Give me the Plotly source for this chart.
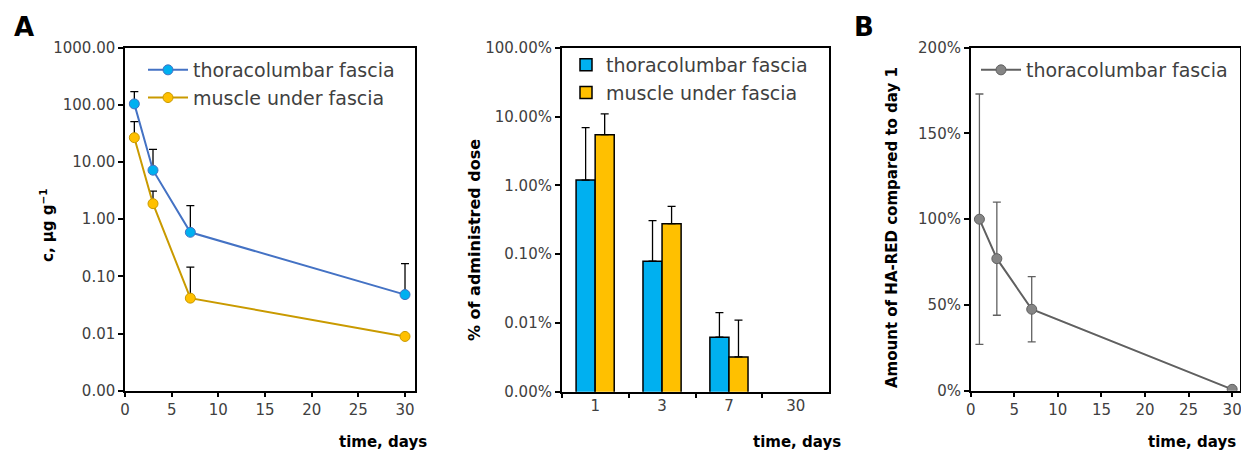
import plotly.graph_objects as go

W, H = 1241, 452
FONT = "DejaVu Sans"

# ---------------- data ----------------
days = [1, 3, 7, 30]
day_labels = ["1", "3", "7", "30"]

# Panel A (left): concentration, µg/g
conc_fascia = [104, 7.2, 0.59, 0.048]
conc_fascia_err = [66, 9.5, 1.14, 0.119]          # upper error only
conc_muscle = [26.7, 1.87, 0.0416, 0.0089]
conc_muscle_err = [24.1, 1.23, 0.103, 0]

# Panel A (middle): % of administered dose
dose_fascia = [1.19, 0.079, 0.0062, None]
dose_fascia_err = [5.7, 0.227, 0.0079, 0]
dose_muscle = [5.44, 0.277, 0.0032, None]
dose_muscle_err = [5.46, 0.218, 0.0078, 0]

# Panel B: amount compared to day 1 (%)
rel_fascia = [100, 77, 47.5, 0.8]
rel_fascia_err = [73, 33, 19, 0]

log_ticks1 = [0.001, 0.01, 0.1, 1, 10, 100, 1000]
log_text1 = ["0.00", "0.01", "0.10", "1.00", "10.00", "100.00", "1000.00"]
log_ticks2 = [0.001, 0.01, 0.1, 1, 10, 100]
log_text2 = ["0.00%", "0.01%", "0.10%", "1.00%", "10.00%", "100.00%"]
lin_ticks3 = [0, 50, 100, 150, 200]
lin_text3 = ["0%", "50%", "100%", "150%", "200%"]
x_ticks = [0, 5, 10, 15, 20, 25, 30]

BLUE_LINE = "#4472C4"
BLUE_FILL = "#00B0F0"
ORANGE_LINE = "#C99A00"
ORANGE_FILL = "#FFC000"
GRAY_LINE = "#606060"
GRAY_FILL = "#858585"
TICK_COLOR = "#404040"


def px(x):
    return x / W


def py(y):
    return 1 - y / H


fig = go.Figure()

# Panel A left
fig.add_trace(go.Scatter(
    x=days, y=conc_fascia, name="thoracolumbar fascia", mode="lines+markers",
    line=dict(color=BLUE_LINE, width=2),
    marker=dict(size=10, color=BLUE_FILL, line=dict(color=BLUE_LINE, width=1)),
    error_y=dict(type="data", symmetric=False, array=conc_fascia_err,
                 arrayminus=[0] * 4, color="black", thickness=1.3, width=4),
    xaxis="x", yaxis="y", legend="legend"))
fig.add_trace(go.Scatter(
    x=days, y=conc_muscle, name="muscle under fascia", mode="lines+markers",
    line=dict(color=ORANGE_LINE, width=2),
    marker=dict(size=10, color=ORANGE_FILL, line=dict(color=ORANGE_LINE, width=1)),
    error_y=dict(type="data", symmetric=False, array=conc_muscle_err,
                 arrayminus=[0] * 4, color="black", thickness=1.3, width=4),
    xaxis="x", yaxis="y", legend="legend"))

# Panel A middle
fig.add_trace(go.Bar(
    x=day_labels, y=dose_fascia, name="thoracolumbar fascia",
    marker=dict(color=BLUE_FILL, line=dict(color="black", width=1.5)),
    error_y=dict(type="data", symmetric=False, array=dose_fascia_err,
                 arrayminus=[0] * 4, color="black", thickness=1.3, width=4),
    xaxis="x2", yaxis="y2", legend="legend2"))
fig.add_trace(go.Bar(
    x=day_labels, y=dose_muscle, name="muscle under fascia",
    marker=dict(color=ORANGE_FILL, line=dict(color="black", width=1.5)),
    error_y=dict(type="data", symmetric=False, array=dose_muscle_err,
                 arrayminus=[0] * 4, color="black", thickness=1.3, width=4),
    xaxis="x2", yaxis="y2", legend="legend2"))

# Panel B
fig.add_trace(go.Scatter(
    x=days, y=rel_fascia, name="thoracolumbar fascia", mode="lines+markers",
    line=dict(color=GRAY_LINE, width=2),
    marker=dict(size=10, color=GRAY_FILL, line=dict(color=GRAY_LINE, width=1)),
    error_y=dict(type="data", array=rel_fascia_err, color=GRAY_LINE,
                 thickness=1.3, width=4),
    xaxis="x3", yaxis="y3", legend="legend3"))

axis_common = dict(showline=True, linecolor="black", linewidth=1.5, mirror=True,
                   ticks="outside", ticklen=5, tickwidth=1.5, tickcolor="black",
                   showgrid=False, zeroline=False, automargin=False,
                   ticklabeloverflow="allow",
                   tickfont=dict(family=FONT, size=15, color=TICK_COLOR))

legend_font = dict(family=FONT, size=19, color="#404040")

fig.update_layout(
    width=W, height=H, autosize=False,
    margin=dict(l=0, r=0, t=0, b=0, pad=0, autoexpand=False),
    paper_bgcolor="white", plot_bgcolor="white",
    font=dict(family=FONT, color="black"),
    barmode="group", bargap=0.43, bargroupgap=0,
    xaxis=dict(domain=[px(125), px(415)], range=[0, 31.07], tickvals=x_ticks,
               anchor="y", **axis_common),
    yaxis=dict(domain=[py(390.7), py(47.7)], type="log", range=[-3, 3],
               tickvals=log_ticks1, ticktext=log_text1, anchor="x", **axis_common),
    xaxis2=dict(domain=[px(561.7), px(829.3)], type="category",
                categoryorder="array", categoryarray=day_labels,
                tickson="boundaries", range=[-0.5, 3.5], anchor="y2", **axis_common),
    yaxis2=dict(domain=[py(391.7), py(47.7)], type="log", range=[-3, 2],
                tickvals=log_ticks2, ticktext=log_text2, anchor="x2", **axis_common),
    xaxis3=dict(domain=[px(970.7), px(1240)], range=[0, 30.9], tickvals=x_ticks,
                anchor="y3", **axis_common),
    yaxis3=dict(domain=[py(390.7), py(47.7)], range=[0, 200], tickvals=lin_ticks3,
                ticktext=lin_text3, anchor="x3", **axis_common),
    legend=dict(x=px(143), y=py(51), xanchor="left", yanchor="top", itemwidth=40,
                bgcolor="rgba(0,0,0,0)", font=legend_font, tracegroupgap=0),
    legend2=dict(x=px(566), y=py(46), xanchor="left", yanchor="top",
                 bgcolor="rgba(0,0,0,0)", font=legend_font, tracegroupgap=0),
    legend3=dict(x=px(976), y=py(51), xanchor="left", yanchor="top", itemwidth=40,
                 bgcolor="rgba(0,0,0,0)", font=legend_font, tracegroupgap=0),
    showlegend=True,
)

ann_font = dict(family=FONT, size=15, color="black")
annotations = [
    dict(text="<b>A</b>", x=px(24), y=py(27), font=dict(family=FONT, size=26, color="black")),
    dict(text="<b>B</b>", x=px(864), y=py(27), font=dict(family=FONT, size=26, color="black")),
    dict(text="<b>c, µg g<sup>−1</sup></b>", x=px(47), y=py(225), textangle=-90, font=ann_font),
    dict(text="<b>% of administred dose</b>", x=px(474), y=py(240), textangle=-90,
         font=dict(family=FONT, size=16, color="black")),
    dict(text="<b>Amount of HA-RED compared to day 1</b>", x=px(892), y=py(228), textangle=-90,
         font=ann_font),
    dict(text="<b>time, days</b>", x=px(429), y=py(442), xanchor="right", font=ann_font),
    dict(text="<b>time, days</b>", x=px(843), y=py(442), xanchor="right", font=ann_font),
    dict(text="<b>time, days</b>", x=px(1238), y=py(442), xanchor="right", font=ann_font),
]
for a in annotations:
    a.setdefault("xanchor", "center")
    fig.add_annotation(xref="paper", yref="paper", showarrow=False, yanchor="middle", **a)

fig.write_html("out.html", config={"displayModeBar": False},
               post_script="document.body.style.margin='0';")
